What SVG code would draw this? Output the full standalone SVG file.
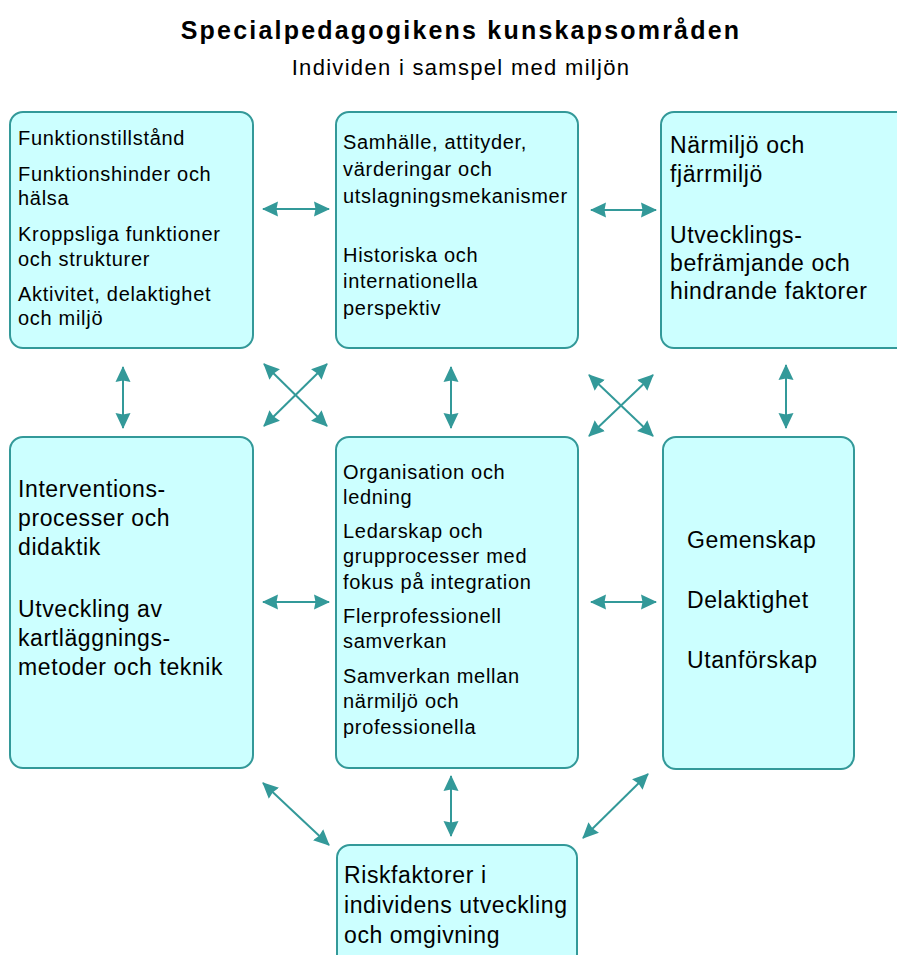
<svg xmlns="http://www.w3.org/2000/svg" width="897" height="955" viewBox="0 0 897 955">
  <style>
    .box { fill: #CCFFFF; stroke: #339999; stroke-width: 2; }
    .t { font-family: "Liberation Sans", Arial, sans-serif; fill: #000; }
    .s { font-size: 20px; letter-spacing: 0.7px; }
    .l { font-size: 23px; letter-spacing: 0.6px; }
    .title { font-size: 25px; font-weight: bold; letter-spacing: 2.2px; }
    .sub { font-size: 22px; letter-spacing: 1.3px; }
    .conn line { stroke: #339999; stroke-width: 2; marker-start: url(#head); marker-end: url(#head); }
  </style>
  <defs>
    <marker id="head" viewBox="0 0 16 16" refX="15" refY="8" markerWidth="16" markerHeight="16" markerUnits="userSpaceOnUse" orient="auto-start-reverse">
      <path d="M0,0.5 L16,8 L0,15.5 L1.5,8 Z" fill="#339999"/>
    </marker>
  </defs>

  <rect width="897" height="955" fill="#FFFFFF"/>

  <!-- heading -->
  <g id="heading">
    <text class="t title" x="461" y="39" text-anchor="middle">Specialpedagogikens kunskapsområden</text>
    <text class="t sub" x="461" y="75" text-anchor="middle">Individen i samspel med miljön</text>
  </g>

  <!-- top row -->
  <g id="funktion">
    <rect class="box" x="10" y="112" width="243" height="236" rx="13"/>
    <text class="t s" x="18">
      <tspan x="18" y="145">Funktionstillstånd</tspan>
      <tspan x="18" y="181">Funktionshinder och</tspan>
      <tspan x="18" y="205">hälsa</tspan>
      <tspan x="18" y="241">Kroppsliga funktioner</tspan>
      <tspan x="18" y="266">och strukturer</tspan>
      <tspan x="18" y="301">Aktivitet, delaktighet</tspan>
      <tspan x="18" y="325">och miljö</tspan>
    </text>
  </g>

  <g id="samhalle">
    <rect class="box" x="336" y="112" width="242" height="236" rx="13"/>
    <text class="t s">
      <tspan x="343" y="149">Samhälle, attityder,</tspan>
      <tspan x="343" y="176">värderingar och</tspan>
      <tspan x="343" y="203">utslagningsmekanismer</tspan>
      <tspan x="343" y="262">Historiska och</tspan>
      <tspan x="343" y="288">internationella</tspan>
      <tspan x="343" y="315">perspektiv</tspan>
    </text>
  </g>

  <g id="narmiljo">
    <rect class="box" x="661" y="112" width="250" height="236" rx="13"/>
    <text class="t l">
      <tspan x="670" y="153">Närmiljö och</tspan>
      <tspan x="670" y="182">fjärrmiljö</tspan>
      <tspan x="670" y="243">Utvecklings-</tspan>
      <tspan x="670" y="271">befrämjande och</tspan>
      <tspan x="670" y="299">hindrande faktorer</tspan>
    </text>
  </g>

  <!-- middle row -->
  <g id="intervention">
    <rect class="box" x="10" y="437" width="243" height="331" rx="13"/>
    <text class="t l">
      <tspan x="18" y="497">Interventions-</tspan>
      <tspan x="18" y="526">processer och</tspan>
      <tspan x="18" y="555">didaktik</tspan>
      <tspan x="18" y="617">Utveckling av</tspan>
      <tspan x="18" y="646">kartläggnings-</tspan>
      <tspan x="18" y="675">metoder och teknik</tspan>
    </text>
  </g>

  <g id="organisation">
    <rect class="box" x="336" y="437" width="242" height="331" rx="13"/>
    <text class="t s">
      <tspan x="343" y="479">Organisation och</tspan>
      <tspan x="343" y="504">ledning</tspan>
      <tspan x="343" y="538">Ledarskap och</tspan>
      <tspan x="343" y="563">grupprocesser med</tspan>
      <tspan x="343" y="589">fokus på integration</tspan>
      <tspan x="343" y="623">Flerprofessionell</tspan>
      <tspan x="343" y="648">samverkan</tspan>
      <tspan x="343" y="683">Samverkan mellan</tspan>
      <tspan x="343" y="708">närmiljö och</tspan>
      <tspan x="343" y="734">professionella</tspan>
    </text>
  </g>

  <g id="gemenskap">
    <rect class="box" x="663" y="437" width="191" height="332" rx="13"/>
    <text class="t l">
      <tspan x="687" y="548">Gemenskap</tspan>
      <tspan x="687" y="608">Delaktighet</tspan>
      <tspan x="687" y="668">Utanförskap</tspan>
    </text>
  </g>

  <!-- bottom -->
  <g id="riskfaktorer">
    <rect class="box" x="337" y="845" width="240" height="130" rx="13"/>
    <text class="t l">
      <tspan x="344" y="883">Riskfaktorer i</tspan>
      <tspan x="344" y="913">individens utveckling</tspan>
      <tspan x="344" y="943">och omgivning</tspan>
    </text>
  </g>

  <!-- two-headed connectors -->
  <g id="connectors" class="conn">
    <line x1="263" y1="209" x2="329" y2="209"/>
    <line x1="591" y1="210" x2="656" y2="210"/>
    <line x1="123" y1="367" x2="123" y2="428"/>
    <line x1="451" y1="367" x2="451" y2="428"/>
    <line x1="786" y1="365" x2="786" y2="428"/>
    <line x1="264" y1="364" x2="327" y2="426"/>
    <line x1="327" y1="364" x2="264" y2="426"/>
    <line x1="589" y1="375" x2="653" y2="436"/>
    <line x1="653" y1="375" x2="589" y2="436"/>
    <line x1="263" y1="602" x2="329" y2="602"/>
    <line x1="591" y1="602" x2="656" y2="602"/>
    <line x1="263" y1="783" x2="329" y2="845"/>
    <line x1="451" y1="776" x2="451" y2="836"/>
    <line x1="648" y1="774" x2="583" y2="838"/>
  </g>
</svg>
